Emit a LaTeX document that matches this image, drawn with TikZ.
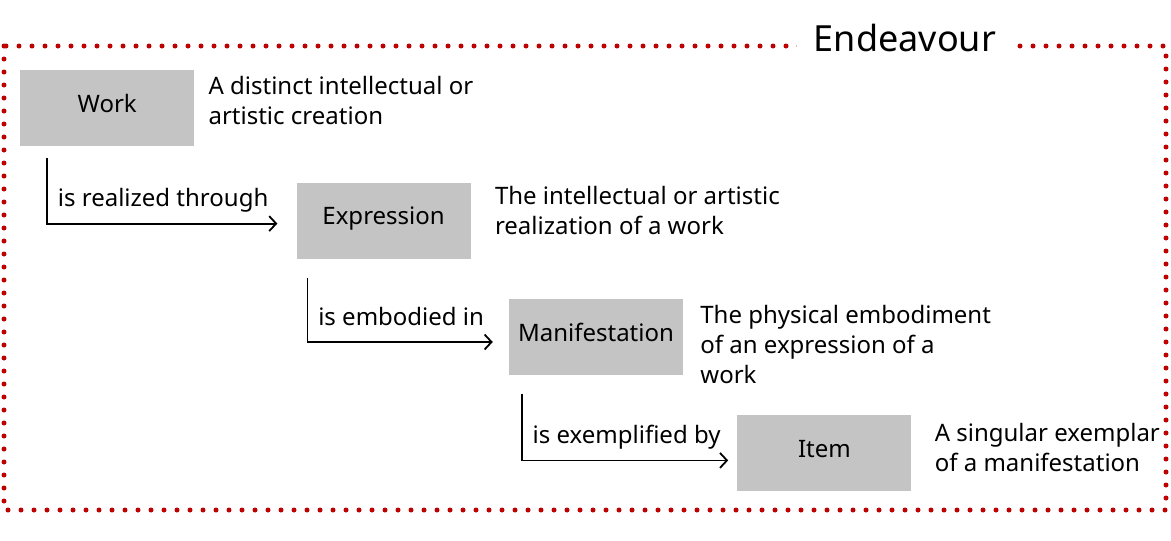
\documentclass[tikz,border=0pt]{standalone}
\usepackage{fontspec}
\setmainfont{Noto Sans}
\usetikzlibrary{arrows.meta,positioning,calc}
\definecolor{endred}{HTML}{BF0000}
\definecolor{boxgray}{HTML}{C4C4C4}
\definecolor{inkblack}{HTML}{000000}
\tikzset{
  entity/.style={fill=boxgray, minimum width=174pt, minimum height=76pt, inner sep=0pt,
    text height=17pt, text depth=9pt, font=\fontsize{24}{30}\selectfont},
  desc/.style={anchor=north west, align=left, inner sep=0pt,
    font=\fontsize{24}{30}\selectfont},
  link/.style={-{Straight Barb[length=7pt,width=15pt]}, line width=1.8pt, inkblack},
  linklabel/.style={anchor=base west, inner sep=0pt, xshift=10pt, yshift=17pt,
    font=\fontsize{24}{30}\selectfont},
  frame/.style={endred, line width=5pt, line cap=round, dash pattern=on 0pt off 13pt},
  banner/.style={fill=white, inner xsep=17pt, inner ysep=2pt, font=\fontsize{36}{40}\selectfont},
}
\begin{document}
\begin{tikzpicture}[x=1pt, y=-1pt]
\useasboundingbox (0,0) rectangle (1171,541);

% ---- outer frame -----------------------------------------------------
\draw[frame] (4,46) rectangle (1166,510);
\node[banner] (endeavour) at (905,38) {Endeavour};

% ---- entities --------------------------------------------------------
\node[entity, anchor=north west] (work) at (20,70) {Work};
\node[entity, below right=36pt and 102pt of work] (expr) {Expression};
\node[entity, below right=40pt and 38pt of expr] (manif) {Manifestation};
\node[entity, below right=40pt and 54pt of manif] (item) {Item};

% ---- descriptions ----------------------------------------------------
\node[desc] (workdesc) at ($(work.north east)+(14,6)$)
  {A distinct intellectual or\\artistic creation};
\node[desc] (exprdesc) at ($(expr.north east)+(24,4)$)
  {The intellectual or artistic\\realization of a work};
\node[desc] (manifdesc) at ($(manif.north east)+(17,6)$)
  {The physical embodiment\\of an expression of a\\work};
\node[desc] (itemdesc) at ($(item.north east)+(23,8)$)
  {A singular exemplar\\of a manifestation};

% ---- relations -------------------------------------------------------
\coordinate (workout) at ($(work.south west)+(27,12)$);
\coordinate (exprin) at ($(expr.west)+(-19,3)$);
\coordinate (exprout) at ($(expr.south west)+(11,19)$);
\coordinate (manifin) at ($(manif.west)+(-16,5)$);
\coordinate (manifout) at ($(manif.south west)+(13,19)$);
\coordinate (itemin) at ($(item.west)+(-9,7)$);

\draw[link] (workout) |- node[linklabel] (realized) {is realized through} (exprin);
\draw[link] (exprout) |- node[linklabel] (embodied) {is embodied in} (manifin);
\draw[link] (manifout) |- node[linklabel] (exemplified) {is exemplified by} (itemin);

\end{tikzpicture}
\end{document}
